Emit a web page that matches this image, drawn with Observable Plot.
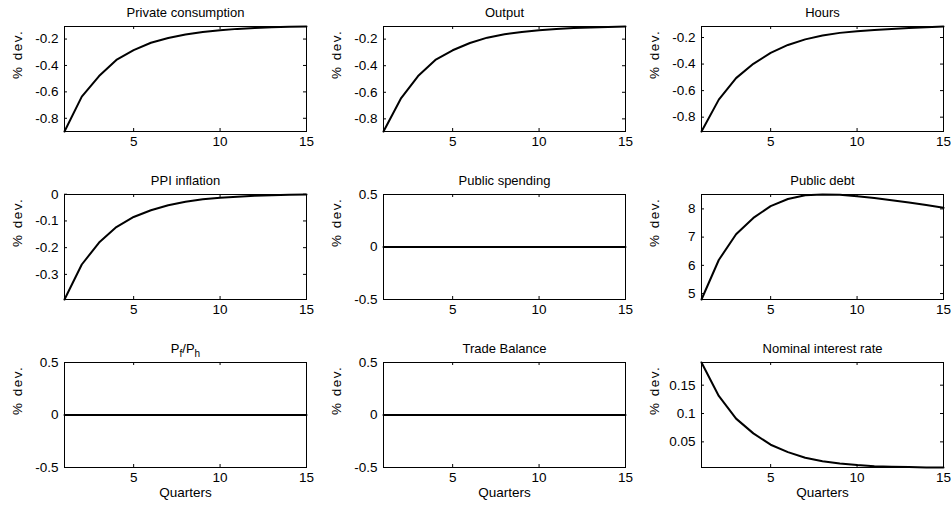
<!DOCTYPE html>
<html>
<head>
<meta charset="utf-8">
<script src="https://cdn.jsdelivr.net/npm/d3@7"></script>
<script src="https://cdn.jsdelivr.net/npm/@observablehq/plot@0.6"></script>
<style>
  html, body { margin: 0; padding: 0; background: white; }
  #chart { position: relative; width: 951px; height: 510px; background: white; overflow: hidden; }
  #chart svg { position: absolute; }
  .ylab text { letter-spacing: 1.5px; }
</style>
</head>
<body>
<div id="chart"></div>
<script>
// ---- data ----
const quarters = [1, 2, 3, 4, 5, 6, 7, 8, 9, 10, 11, 12, 13, 14, 15];
const titles = ["Private consumption", "Output", "Hours",
                "PPI inflation", "Public spending", "Public debt",
                "Pf/Ph", "Trade Balance", "Nominal interest rate"];
const privateConsumption = [-0.900, -0.636, -0.480, -0.358, -0.284, -0.228, -0.192, -0.165, -0.146, -0.133, -0.123, -0.116, -0.111, -0.107, -0.105];
const output = [-0.895, -0.648, -0.478, -0.357, -0.284, -0.229, -0.189, -0.163, -0.146, -0.134, -0.124, -0.117, -0.112, -0.108, -0.105];
const hours = [-0.908, -0.668, -0.506, -0.398, -0.316, -0.256, -0.214, -0.185, -0.165, -0.153, -0.143, -0.135, -0.128, -0.122, -0.117];
const ppiInflation = [-0.394, -0.263, -0.181, -0.123, -0.085, -0.060, -0.041, -0.028, -0.019, -0.013, -0.009, -0.006, -0.004, -0.002, -0.001];
const publicSpending = [0, 0, 0, 0, 0, 0, 0, 0, 0, 0, 0, 0, 0, 0, 0];
const publicDebt = [4.79, 6.19, 7.10, 7.68, 8.10, 8.35, 8.48, 8.51, 8.50, 8.45, 8.39, 8.31, 8.23, 8.14, 8.04];
const pfPh = [0, 0, 0, 0, 0, 0, 0, 0, 0, 0, 0, 0, 0, 0, 0];
const tradeBalance = [0, 0, 0, 0, 0, 0, 0, 0, 0, 0, 0, 0, 0, 0, 0];
const nominalRate = [0.190, 0.131, 0.091, 0.065, 0.045, 0.032, 0.022, 0.016, 0.012, 0.009, 0.007, 0.006, 0.0055, 0.005, 0.0048];

const xTicks = [5, 10, 15];
const yTicksList = [
  [-0.8, -0.6, -0.4, -0.2],
  [-0.8, -0.6, -0.4, -0.2],
  [-0.8, -0.6, -0.4, -0.2],
  [-0.3, -0.2, -0.1, 0],
  [-0.5, 0, 0.5],
  [5, 6, 7, 8],
  [-0.5, 0, 0.5],
  [-0.5, 0, 0.5],
  [0.05, 0.1, 0.15]
];
const seriesList = [privateConsumption, output, hours, ppiInflation, publicSpending,
                    publicDebt, pfPh, tradeBalance, nominalRate];
const yLabel = "% dev.";
const xLabel = "Quarters";

// ---- layout ----
const colLeft = [64, 383, 701];
const rowTop = [26, 194, 362];
const W = 242, H = 105;
const mL = 64, mT = 26, mR = 10, mB = 44;
const font = "'Liberation Sans', Arial, Helvetica, sans-serif";
const SVGNS = "http://www.w3.org/2000/svg";

const chart = document.getElementById("chart");

function subscriptTitle(textEl) {
  // rebuild "Pf/Ph" as P_f / P_h with subscripts
  while (textEl.firstChild) textEl.removeChild(textEl.firstChild);
  const parts = [["P", 0, null], ["f", 4, 10], ["/P", -4, null], ["h", 4, 10]];
  parts.forEach(([s, dy, fs]) => {
    const ts = document.createElementNS(SVGNS, "tspan");
    if (dy) ts.setAttribute("dy", dy);
    if (fs) ts.setAttribute("font-size", fs);
    ts.textContent = s;
    textEl.appendChild(ts);
  });
}

seriesList.forEach((vals, i) => {
  const row = Math.floor(i / 3), col = i % 3;
  const data = quarters.map((q, k) => ({q, v: vals[k]}));
  const ext = d3.extent(vals);
  const yDomain = ext[0] === ext[1] ? [ext[0] - 0.5, ext[1] + 0.5] : ext;
  const yTicks = yTicksList[i];
  const marks = [
    Plot.frame({stroke: "black", strokeWidth: 1}),
    // inward ticks on all four sides
    Plot.ruleX(xTicks, {x: d => d, insetTop: H - 3, stroke: "black", strokeWidth: 1}),
    Plot.ruleX(xTicks, {x: d => d, insetBottom: H - 3, stroke: "black", strokeWidth: 1}),
    Plot.ruleY(yTicks, {y: d => d, insetRight: W - 3, stroke: "black", strokeWidth: 1}),
    Plot.ruleY(yTicks, {y: d => d, insetLeft: W - 3, stroke: "black", strokeWidth: 1}),
    Plot.axisX(xTicks, {tickSize: 0, tickPadding: 5, tickFormat: d => String(d), label: null, fontSize: 13.5, fill: "black"}),
    Plot.axisY(yTicks, {tickSize: 0, tickPadding: 6, tickFormat: d => String(d), label: null, fontSize: 13.5, fill: "black"}),
    Plot.line(data, {x: "q", y: "v", stroke: "black", strokeWidth: 2}),
    Plot.text([titles[i]], {text: d => d, frameAnchor: "top", lineAnchor: "bottom", dy: -10, fontSize: 13, fill: "black"}),
    Plot.text([yLabel], {text: d => d, frameAnchor: "left", rotate: -90, dx: -47, fontSize: 13.5, fill: "black", className: "ylab"})
  ];
  if (row === 2) {
    marks.push(Plot.text([xLabel], {text: d => d, frameAnchor: "bottom", dy: 29, fontSize: 13.5, fill: "black"}));
  }
  const svg = Plot.plot({
    width: mL + W + mR,
    height: mT + H + mB,
    marginLeft: mL, marginTop: mT, marginRight: mR, marginBottom: mB,
    x: {domain: [1, 15]},
    y: {domain: yDomain},
    style: {fontFamily: font, fontSize: "13px", background: "transparent", overflow: "visible", color: "black"},
    marks
  });
  svg.style.left = (colLeft[col] - mL) + "px";
  svg.style.top = (rowTop[row] - mT) + "px";
  if (titles[i] === "Pf/Ph") {
    svg.querySelectorAll("text").forEach(t => {
      if (t.textContent === "Pf/Ph") subscriptTitle(t);
    });
  }
  chart.appendChild(svg);
});
</script>
</body>
</html>
